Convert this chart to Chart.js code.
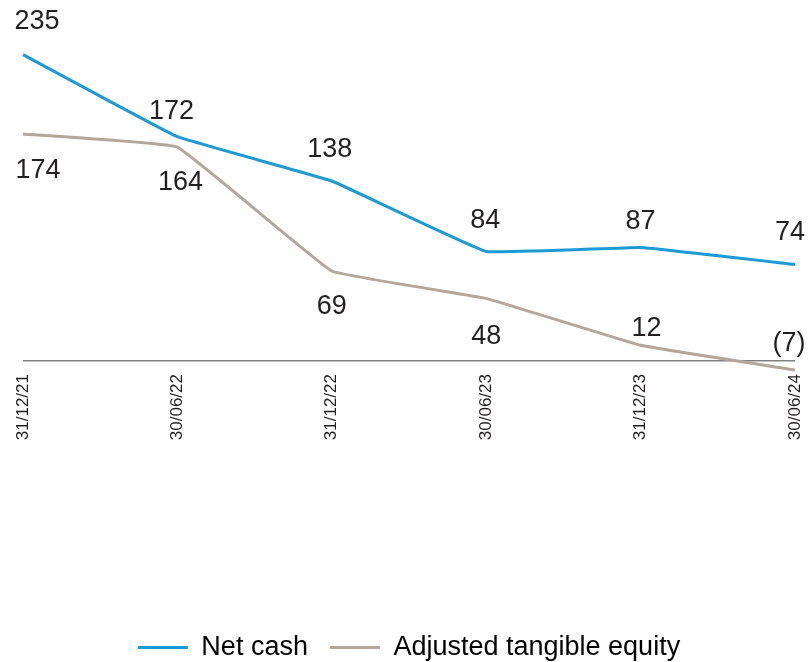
<!DOCTYPE html>
<html>
<head>
<meta charset="utf-8">
<script src="https://cdn.jsdelivr.net/npm/chart.js@4.4.1/dist/chart.umd.min.js"></script>
<style>
	html, body { margin: 0; padding: 0; background: #fff; }
	#wrap { width: 810px; height: 662px; position: relative; }
</style>
</head>
<body>
<div id="wrap"><canvas id="myChart"></canvas></div>
<script>
const dates = ["31/12/21", "30/06/22", "31/12/22", "30/06/23", "31/12/23", "30/06/24"];
const netCash = [235, 172, 138, 84, 87, 74];
const adjEquity = [174, 164, 69, 48, 12, -7];

// label nudges per point (dx, dy) so the numbers sit where they do in the source
const labelOffsets = [
	[[14, -33], [-6, -25], [-2, -31], [-1, -31], [0, -26], [-5, -32]],
	[[15, 36], [3, 35], [0, 36], [0, 38], [6, -17], [-6, -27]]
];

const fontFamily = "'Liberation Sans', Arial, sans-serif";
const textColor = "#231f20";

function fmt(v) {
	return v < 0 ? "(" + Math.abs(v) + ")" : String(v);
}

const valueLabels = {
	id: "valueLabels",
	afterDatasetsDraw(chart) {
		const ctx = chart.ctx;
		ctx.save();
		ctx.font = "27px " + fontFamily;
		ctx.fillStyle = textColor;
		ctx.textAlign = "center";
		ctx.textBaseline = "middle";
		chart.data.datasets.forEach((ds, di) => {
			const meta = chart.getDatasetMeta(di);
			meta.data.forEach((pt, i) => {
				const off = labelOffsets[di][i];
				ctx.fillText(fmt(ds.data[i]), pt.x + off[0], pt.y + off[1]);
			});
		});
		ctx.restore();
	}
};

new Chart("myChart", {
	type: "line",
	data: {
		labels: dates,
		datasets: [{
			label: "Net cash",
			data: netCash,
			borderColor: "#1b9ad6",
			backgroundColor: "#1b9ad6",
			borderWidth: 3,
			pointRadius: 0,
			tension: 0.07,
			fill: false
		}, {
			label: "Adjusted tangible equity",
			data: adjEquity,
			borderColor: "#b3a79b",
			backgroundColor: "#b3a79b",
			borderWidth: 3,
			pointRadius: 0,
			tension: 0.07,
			fill: false
		}]
	},
	options: {
		responsive: true,
		maintainAspectRatio: false,
		animation: false,
		layout: { padding: { left: 23, right: 15, top: 35, bottom: -9 } },
		plugins: {
			tooltip: { enabled: false },
			legend: {
				position: "bottom",
				labels: {
					boxWidth: 50,
					boxHeight: 3,
					padding: 22,
					color: textColor,
					font: { size: 27, family: fontFamily },
					generateLabels(chart) {
						return chart.data.datasets.map((ds, i) => ({
							text: ds.label,
							fillStyle: ds.borderColor,
							strokeStyle: ds.borderColor,
							lineWidth: 0,
							datasetIndex: i
						}));
					}
				}
			}
		},
		scales: {
			x: {
				grid: { display: false, drawTicks: false },
				border: { display: false },
				ticks: {
					autoSkip: false,
					maxRotation: 90,
					minRotation: 90,
					padding: 0,
					color: textColor,
					font: { size: 17, family: fontFamily }
				},
				afterFit(scale) {
					scale.height = 238;
					scale.paddingLeft = 0;
					scale.paddingRight = 0;
				}
			},
			y: {
				min: -10,
				max: 250,
				ticks: { display: false, stepSize: 10 },
				border: { display: false },
				grid: {
					drawTicks: false,
					lineWidth: 1.5,
					color: c => c.tick.value === 0 ? "#808080" : "rgba(0,0,0,0)"
				}
			}
		}
	},
	plugins: [valueLabels]
});
</script>
</body>
</html>
